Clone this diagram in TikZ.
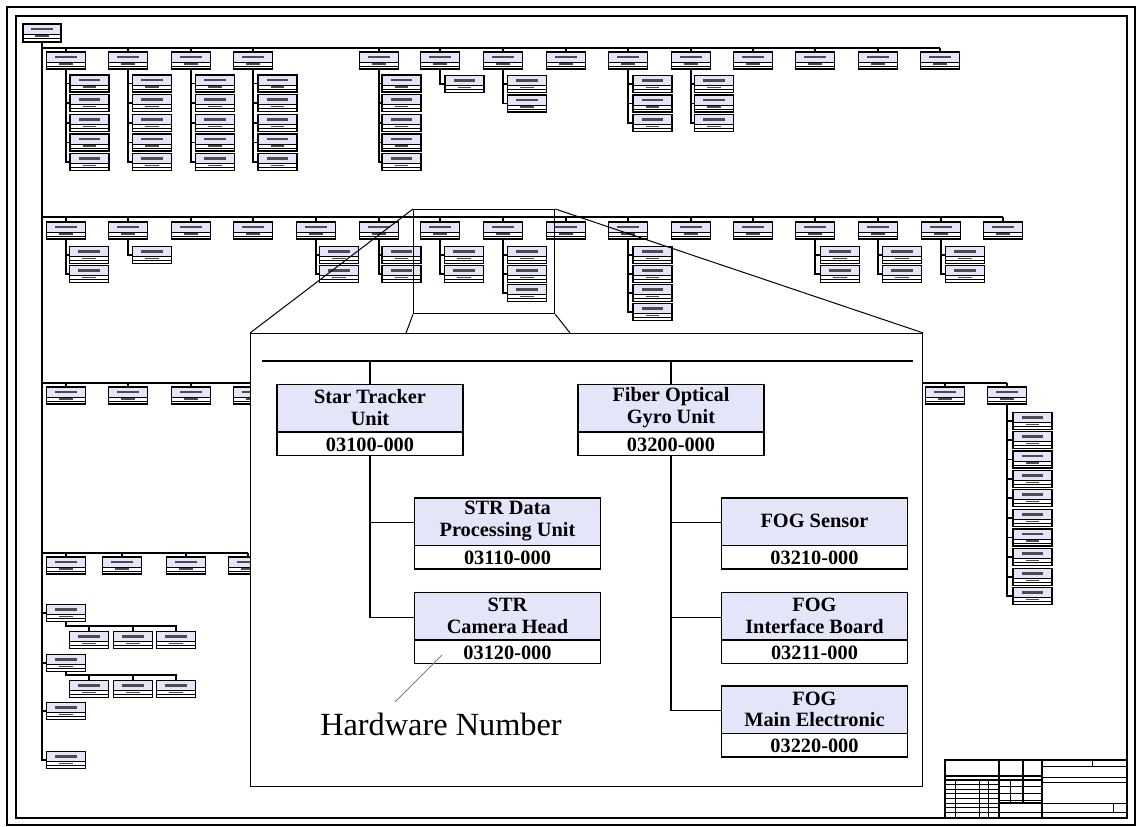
\documentclass[tikz,border=0pt]{standalone}
\usepackage{fontspec}
\setmainfont{Liberation Serif}
\definecolor{lav}{RGB}{229,229,250}
\tikzset{
  sbox/.style={draw, line width=0.9pt, minimum width=23.4pt, minimum height=10.2pt, inner sep=0pt,
    path picture={
      \fill[lav] (path picture bounding box.north west) rectangle ([yshift=-6pt]path picture bounding box.north east);
      \draw[line width=0.5pt] ([yshift=-6pt]path picture bounding box.north west) -- ([yshift=-6pt]path picture bounding box.north east);
      \draw[line width=0.5pt] ([yshift=-8.5pt]path picture bounding box.north west) -- ([yshift=-8.5pt]path picture bounding box.north east);
      \draw[black!70, line width=1.3pt] ([xshift=-6.5pt,yshift=-3pt]path picture bounding box.north) -- ([xshift=6.5pt,yshift=-3pt]path picture bounding box.north);
      \draw[black!70, line width=1pt] ([xshift=-4pt,yshift=-7.25pt]path picture bounding box.north) -- ([xshift=4pt,yshift=-7.25pt]path picture bounding box.north);
    }},
  conn/.style={line width=0.8pt},
  bigbox/.style={draw, line width=0.8pt, minimum width=111.6pt, minimum height=42.6pt, inner sep=0pt,
    path picture={
      \fill[lav] (path picture bounding box.north west) rectangle ([yshift=-28.5pt]path picture bounding box.north east);
      \draw[line width=0.8pt] ([yshift=-28.5pt]path picture bounding box.north west) -- ([yshift=-28.5pt]path picture bounding box.north east);
    }},
  bigtxt/.style={font=\fontsize{12.2}{13}\selectfont\bfseries, align=center, inner sep=0pt},
  frame/.style={line width=0.9pt},
  tb/.style={line width=0.7pt},
  tbt/.style={line width=0.45pt},
}
\newcommand\mkkid[4]{\node[sbox] (#2) at (#3,#4) {}; \draw[conn] (#1.south) |- (#2.west);}
\newcommand\mktop[4]{\node[sbox] (#1) at (#2,#3) {}; \draw[conn] (#1.north) -- (#1.north |- #4);}
\begin{document}
\begin{tikzpicture}[x=0.6pt, y=-0.6pt]
\useasboundingbox (0,0) rectangle (1138,827);
% frames
\draw[frame] (7,7) rectangle (1135,825);
\draw[frame] (16,16) rectangle (1127,818);

% root and trunk
\node[sbox, minimum width=22.8pt, minimum height=10.8pt] (root) at (42,33) {};

% ---------- row 1
\coordinate (bus1) at (42,48);
\foreach \n/\x in {a1/66,a2/128,a3/191,a4/253,a5/379,a6/440,a7/503,a8/566,a9/628,a10/691,a11/753,a12/815,a13/878,a14/940}
  {\mktop{\n}{\x}{60.5}{bus1}}
\draw[conn] (bus1) -- (bus1 -| a14.north);
\foreach \y [count=\i] in {83.5,103,123,142.5,162} {\mkkid{a1}{a1k\i}{89.5}{\y}}
\foreach \y [count=\i] in {83.5,103,123,142.5,162} {\mkkid{a2}{a2k\i}{152}{\y}}
\foreach \y [count=\i] in {83.5,103,123,142.5,162} {\mkkid{a3}{a3k\i}{215}{\y}}
\foreach \y [count=\i] in {83.5,103,123,142.5,162} {\mkkid{a4}{a4k\i}{277.5}{\y}}
\foreach \y [count=\i] in {83.5,103,123,142.5,162} {\mkkid{a5}{a5k\i}{401.5}{\y}}
\foreach \y [count=\i] in {84} {\mkkid{a6}{a6k\i}{464.5}{\y}}
\foreach \y [count=\i] in {84,103.5} {\mkkid{a7}{a7k\i}{527}{\y}}
\foreach \y [count=\i] in {84,103.5,123} {\mkkid{a9}{a9k\i}{652.5}{\y}}
\foreach \y [count=\i] in {84,103.5,123} {\mkkid{a10}{a10k\i}{714}{\y}}

% ---------- row 2
\coordinate (bus2) at (42,217);
\foreach \n/\x in {b1/66,b2/128,b3/191,b4/253,b5/316,b6/379,b7/440,b8/503,b9/566,b10/628,b11/691,b12/753,b13/815,b14/878,b15/941,b16/1003}
  {\mktop{\n}{\x}{230.5}{bus2}}
\draw[conn] (bus2) -- (bus2 -| b16.north);
\foreach \y [count=\i] in {255,274} {\mkkid{b1}{b1k\i}{89}{\y}}
\foreach \y [count=\i] in {255} {\mkkid{b2}{b2k\i}{152}{\y}}
\foreach \y [count=\i] in {255,274} {\mkkid{b5}{b5k\i}{339}{\y}}
\foreach \y [count=\i] in {255,274} {\mkkid{b6}{b6k\i}{401.5}{\y}}
\foreach \y [count=\i] in {255,274} {\mkkid{b7}{b7k\i}{464}{\y}}
\foreach \y [count=\i] in {255,274,293} {\mkkid{b8}{b8k\i}{527}{\y}}
\foreach \y [count=\i] in {255,274,293,312} {\mkkid{b10}{b10k\i}{652.5}{\y}}
\foreach \y [count=\i] in {255,274} {\mkkid{b13}{b13k\i}{840}{\y}}
\foreach \y [count=\i] in {255,274} {\mkkid{b14}{b14k\i}{902}{\y}}
\foreach \y [count=\i] in {255,274} {\mkkid{b15}{b15k\i}{965}{\y}}

% ---------- row 3
\coordinate (bus3) at (42,383);
\foreach \n/\x in {c1/66,c2/128,c3/191,c4/253,c5/945,c6/1007}
  {\mktop{\n}{\x}{395.5}{bus3}}
\draw[conn] (bus3) -- (bus3 -| c6.north);
\foreach \y [count=\i] in {421,440,459.5,479,498,518,537.5,557,577,596} {\mkkid{c6}{c6k\i}{1032.5}{\y}}

% ---------- row 4
\coordinate (bus4) at (42,553);
\foreach \n/\x in {d1/66,d2/122,d3/186,d4/248}
  {\mktop{\n}{\x}{565.5}{bus4}}
\draw[conn] (bus4) -- (bus4 -| d4.north);

% ---------- lower single items
\node[sbox] (e1) at (66,613) {};
\node[sbox] (e2) at (66,663) {};
\node[sbox] (e3) at (66,711) {};
\node[sbox] (e4) at (66,760) {};
\draw[conn] (root.south) |- (e4.west);
\draw[conn] (root.south) |- (e1.west);
\draw[conn] (root.south) |- (e2.west);
\draw[conn] (root.south) |- (e3.west);

\node[sbox] (f1) at (89,640) {};
\node[sbox] (f2) at (133,640) {};
\node[sbox] (f3) at (176,640) {};
\coordinate (h1) at (66,626);
\draw[conn] (e1.south) -- (h1) -| (f3.north);
\draw[conn] (h1) -| (f1.north);
\draw[conn] (h1) -| (f2.north);

\node[sbox] (g1) at (89,689) {};
\node[sbox] (g2) at (133,689) {};
\node[sbox] (g3) at (176,689) {};
\coordinate (h2) at (66,675);
\draw[conn] (e2.south) -- (h2) -| (g3.north);
\draw[conn] (h2) -| (g1.north);
\draw[conn] (h2) -| (g2.north);

% ---------- zoom marker and inset
\node[draw, line width=0.8pt, minimum width=84.6pt, minimum height=62.4pt, inner sep=0pt, anchor=north west] (zr) at (413,209) {};
\node[draw, line width=0.8pt, fill=white, minimum width=403.2pt, minimum height=271.8pt, inner sep=0pt, anchor=north west] (inset) at (250,333) {};
\coordinate (il) at (406,333);
\coordinate (ir) at (570,333);
\draw[line width=0.6pt] (zr.north west) -- (inset.north west);
\draw[line width=0.6pt] (zr.north east) -- (inset.north east);
\draw[line width=0.6pt] (zr.south west) -- (il);
\draw[line width=0.6pt] (zr.south east) -- (ir);

% inset content
\coordinate (ib1) at (262,361);
\coordinate (ib2) at (913,361);
\draw[conn] (ib1) -- (ib2);

\node[bigbox] (st) at (370,420) {};
\node[bigtxt] at ([yshift=-14.4pt]st.north) {Star Tracker\\Unit};
\node[bigtxt] at ([yshift=6.9pt]st.south) {03100-000};

\node[bigbox] (fog) at (671,420) {};
\node[bigtxt] at ([yshift=-14.4pt]fog.north) {Fiber Optical\\Gyro Unit};
\node[bigtxt] at ([yshift=6.9pt]fog.south) {03200-000};

\draw[conn] (st.north) -- (st.north |- ib1);
\draw[conn] (fog.north) -- (fog.north |- ib1);

\node[bigbox] (sd) at (507.5,533.5) {};
\node[bigtxt] at ([yshift=-14.4pt]sd.north) {STR Data\\Processing Unit};
\node[bigtxt] at ([yshift=6.9pt]sd.south) {03110-000};

\node[bigbox] (sc) at (507.5,628) {};
\node[bigtxt] at ([yshift=-14.4pt]sc.north) {STR\\Camera Head};
\node[bigtxt] at ([yshift=6.9pt]sc.south) {03120-000};

\node[bigbox] (fs) at (814.5,533.5) {};
\node[bigtxt] at ([yshift=-14.4pt]fs.north) {FOG Sensor};
\node[bigtxt] at ([yshift=6.9pt]fs.south) {03210-000};

\node[bigbox] (fi) at (814.5,628) {};
\node[bigtxt] at ([yshift=-14.4pt]fi.north) {FOG\\Interface Board};
\node[bigtxt] at ([yshift=6.9pt]fi.south) {03211-000};

\node[bigbox] (fm) at (814.5,721.5) {};
\node[bigtxt] at ([yshift=-14.4pt]fm.north) {FOG\\Main Electronic};
\node[bigtxt] at ([yshift=6.9pt]fm.south) {03220-000};

\draw[conn] (st.south) |- ([yshift=6.5pt]sd.west);
\draw[conn] (st.south) |- ([yshift=6.5pt]sc.west);
\draw[conn] (fog.south) |- ([yshift=6.5pt]fs.west);
\draw[conn] (fog.south) |- ([yshift=6.5pt]fi.west);
\draw[conn] (fog.south) |- ([yshift=6.5pt]fm.west);

\node[font=\fontsize{19.4}{22}\selectfont, inner sep=0pt] (hw) at (441,724) {Hardware Number};
\coordinate (hwa) at (395,702);
\coordinate (hwb) at (442,655);
\draw[gray, line width=0.6pt] (hwa) -- (hwb);

% ---------- title block
\draw[tb] (945,760) rectangle (1127,818);
\draw[tb] (999,760) -- (999,818);
\draw[tb] (1042,760) -- (1042,818);
\draw[tb] (1023,760) -- (1023,803);
\draw[tb] (945,776) -- (1042,776);
\draw[tb] (945,780) -- (1042,780);
\foreach \y in {784,789,793,798,803,807,812} {\draw[tbt] (945,\y) -- (999,\y);}
\foreach \x in {955,979,988} {\draw[tbt] (\x,780) -- (\x,818);}
\draw[tbt] (1010,780) -- (1010,803);
\foreach \y in {786,793,800} {\draw[tbt] (999,\y) -- (1042,\y);}
\draw[tb] (999,803) -- (1042,803);
\draw[tbt] (999,812) -- (1127,812);
\draw[tbt] (1042,766) -- (1127,766);
\draw[tbt] (1092,760) -- (1092,766);
\draw[tbt] (1042,777) -- (1127,777);
\draw[tbt] (1042,782) -- (1127,782);
\draw[tbt] (1042,803) -- (1127,803);
\draw[tbt] (1113,803) -- (1113,812);
\end{tikzpicture}
\end{document}
